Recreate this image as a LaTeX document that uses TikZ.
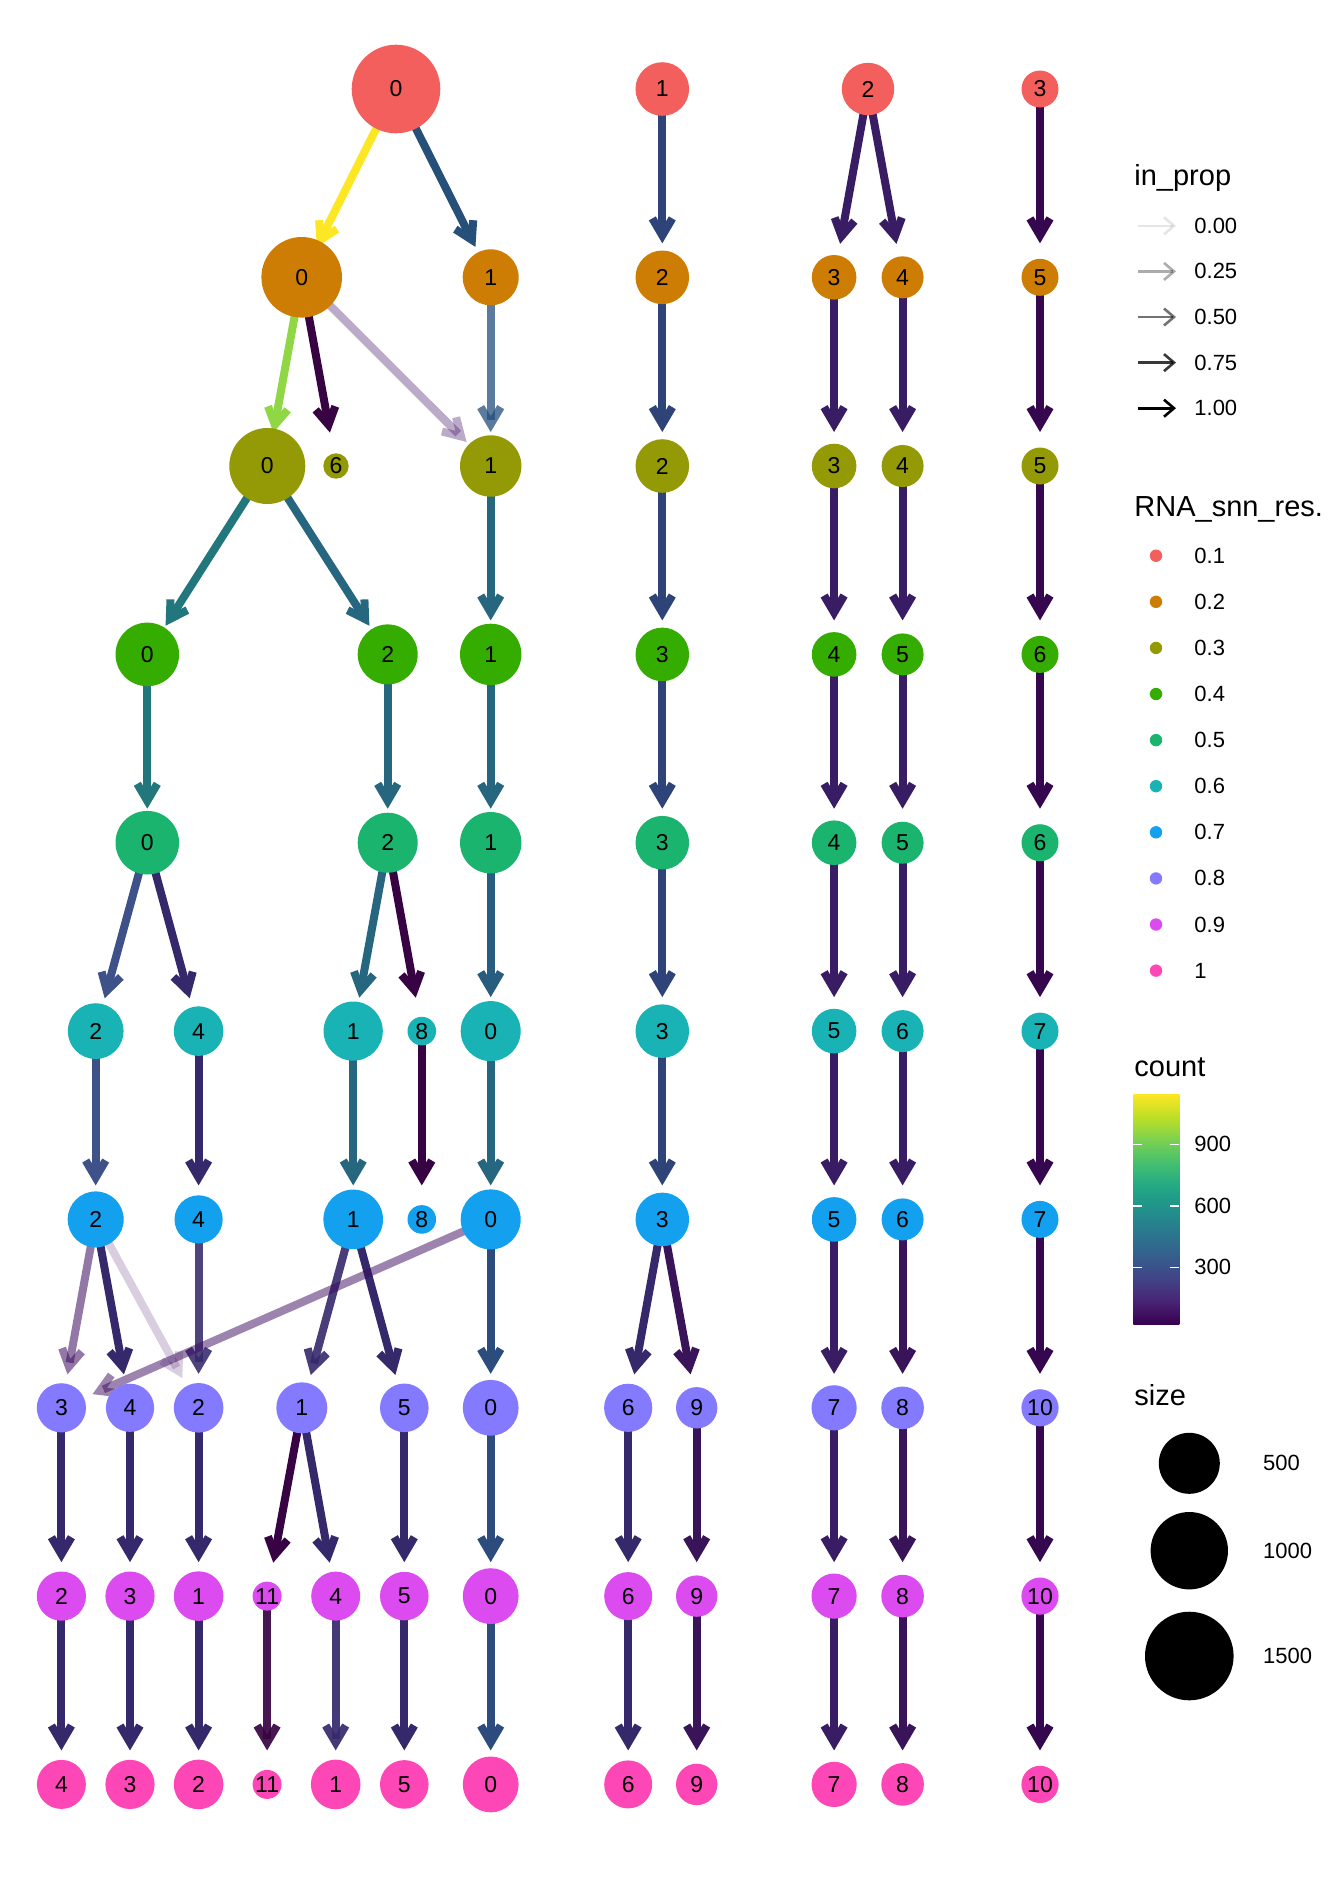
\documentclass[tikz,border=0pt]{standalone}
\usepackage{fontspec}
\setmainfont{Liberation Sans}
\usetikzlibrary{arrows.meta}
\usetikzlibrary{backgrounds}
% resolution colours
\definecolor{res1}{HTML}{F25F5C}
\definecolor{res2}{HTML}{CD7D04}
\definecolor{res3}{HTML}{939A05}
\definecolor{res4}{HTML}{34AD00}
\definecolor{res5}{HTML}{1AB46F}
\definecolor{res6}{HTML}{19B3B5}
\definecolor{res7}{HTML}{13A0EF}
\definecolor{res8}{HTML}{847AFF}
\definecolor{res9}{HTML}{DC4BF0}
\definecolor{res10}{HTML}{FE47B6}
% edge colours (count)
\definecolor{cYellow}{HTML}{FDE725}
\definecolor{cLime}{HTML}{8FD744}
\definecolor{cTeal}{HTML}{22777D}
\definecolor{cTealB}{HTML}{26667E}
\definecolor{cOcean}{HTML}{285D7F}
\definecolor{cSteel}{HTML}{264F79}
\definecolor{cBlue}{HTML}{2B4C7C}
\definecolor{cNavy}{HTML}{2E4479}
\definecolor{cSlate}{HTML}{3E5289}
\definecolor{cIndigo}{HTML}{35296B}
\definecolor{cPurple}{HTML}{391D64}
\definecolor{cPurpleB}{HTML}{391458}
\definecolor{cDark}{HTML}{35074F}
\definecolor{cDarker}{HTML}{370342}
\definecolor{cFaint}{HTML}{3A0A5E}
\definecolor{cFaintB}{HTML}{234E7D}
% viridis bar
\definecolor{vir0}{HTML}{3A0050}
\definecolor{vir1}{HTML}{482475}
\definecolor{vir2}{HTML}{414487}
\definecolor{vir3}{HTML}{355F8D}
\definecolor{vir4}{HTML}{2A788E}
\definecolor{vir5}{HTML}{21918C}
\definecolor{vir6}{HTML}{22A884}
\definecolor{vir7}{HTML}{44BF70}
\definecolor{vir8}{HTML}{7AD151}
\definecolor{vir9}{HTML}{BDDF26}
\definecolor{vir10}{HTML}{FDE725}
\pgfdeclareverticalshading{viridis}{100bp}{color(0bp)=(vir0); color(25bp)=(vir0); color(30bp)=(vir1); color(35bp)=(vir2); color(40bp)=(vir3); color(45bp)=(vir4); color(50bp)=(vir5); color(55bp)=(vir6); color(60bp)=(vir7); color(65bp)=(vir8); color(70bp)=(vir9); color(75bp)=(vir10); color(100bp)=(vir10)}
\tikzset{clu/.style = {circle, inner sep = 0, text = black, font = \fontsize{11.5}{13}\selectfont}}
\tikzset{flow/.style = {line width = 4pt, draw = #1, -{Straight Barb[length = 8.5pt, width = 10pt]}, shorten > = 17pt}}
\tikzset{ttl/.style = {anchor = base west, inner sep = 0, font = \fontsize{14.5}{16}\selectfont}}
\tikzset{lab/.style = {anchor = west, inner sep = 0, font = \fontsize{11}{13}\selectfont}}

\begin{document}
\begin{tikzpicture}[x = 0.5pt, y = -0.5pt]
    \useasboundingbox (0, 0) rectangle (1344, 1881);
    % clusters, one row per resolution
    \foreach \x/\r/\n in {396/44.3/0, 662.3/26.8/1, 868/26.2/2, 1040/18.5/3}
      \node [clu, fill = res1, minimum size = \r pt] (a\n) at (\x, 89) {\n};
    \foreach \x/\r/\n in {301.7/40.3/0, 490.7/28/1, 662.3/26.8/2, 834.1/22.3/3, 902.6/21/4, 1040/18.5/5}
      \node [clu, fill = res2, minimum size = \r pt] (b\n) at (\x, 277.3) {\n};
    \foreach \x/\r/\n in {267.3/38/0, 336/12.7/6, 490.7/30.7/1, 662.3/26.8/2, 834.1/22.3/3, 902.6/21/4, 1040/18.5/5}
      \node [clu, fill = res3, minimum size = \r pt] (c\n) at (\x, 466) {\n};
    \foreach \x/\r/\n in {147.3/31.8/0, 387.7/30/2, 490.7/30.7/1, 662.3/26.8/3, 834.1/22.3/4, 902.6/21/5, 1040/18.5/6}
      \node [clu, fill = res4, minimum size = \r pt] (d\n) at (\x, 654.4) {\n};
    \foreach \x/\r/\n in {147.3/31.8/0, 387.7/30/2, 490.7/30.7/1, 662.3/26.8/3, 834.1/22.3/4, 902.6/21/5, 1040/18.5/6}
      \node [clu, fill = res5, minimum size = \r pt] (e\n) at (\x, 842.7) {\n};
    \foreach \x/\r/\n in {95.7/27.9/2, 198.6/24.8/4, 353.2/29.6/1, 421.8/14.3/8, 490.7/30/0, 662.3/26.8/3, 834.1/22.3/5, 902.6/21/6, 1040/18.5/7}
      \node [clu, fill = res6, minimum size = \r pt] (f\n) at (\x, 1031.1) {\n};
    \foreach \x/\r/\n in {95.7/28/2, 198.6/24.1/4, 353.2/29.8/1, 421.8/14.3/8, 490.7/30/0, 662.3/26.8/3, 834.1/22.3/5, 902.6/21/6, 1040/18.5/7}
      \node [clu, fill = res7, minimum size = \r pt] (g\n) at (\x, 1219.4) {\n};
    \foreach \x/\r/\n in {61.4/24.6/3, 130/24.1/4, 198.6/24.8/2, 301.8/25.5/1, 404.3/24.3/5, 490.7/27.9/0, 628.2/24.1/6, 696.7/20.7/9, 834.1/22.6/7, 902.6/21.3/8, 1040/18.6/10}
      \node [clu, fill = res8, minimum size = \r pt] (h\n) at (\x, 1407.8) {\n};
    \foreach \x/\r/\n in {61.4/24.6/2, 130/24.6/3, 198.6/24.8/1, 267.1/14.5/11, 335.7/24.5/4, 404.3/24.3/5, 490.7/27.9/0, 628.2/24/6, 696.7/20.7/9, 834.1/22.6/7, 902.6/21.3/8, 1040/18.6/10}
      \node [clu, fill = res9, minimum size = \r pt] (i\n) at (\x, 1596.1) {\n};
    \foreach \x/\r/\n in {61.4/24.5/4, 130/24.6/3, 198.6/24.8/2, 267.1/14.5/11, 335.7/24.8/1, 404.3/24.3/5, 490.7/27.9/0, 628.2/24/6, 696.7/20.7/9, 834.1/22.6/7, 902.6/21.3/8, 1040/18.6/10}
      \node [clu, fill = res10, minimum size = \r pt] (j\n) at (\x, 1784.4) {\n};

    % edges behind the clusters
    \begin{scope}[on background layer]
      \draw [flow = cYellow] (a0.center) -- (b0.center);
      \draw [flow = cSteel] (a0.center) -- (b1.center);
      \draw [flow = cLime] (b0.center) -- (c0.center);
      \draw [flow = cOcean] (e1.center) -- (f0.center);
      \foreach \s/\t in {a1/b2, b2/c2, c2/d3, d3/e3, e3/f3, f3/g3}
        \draw [flow = cNavy] (\s.center) -- (\t.center);
      \foreach \s/\t in {a2/b3, a2/b4, b3/c3, b4/c4, c3/d4, c4/d5, d4/e4, d5/e5, e4/f5, e5/f6, f5/g5, f6/g6, g5/h7, h7/i7, i7/j7}
        \draw [flow = cPurple] (\s.center) -- (\t.center);
      \foreach \s/\t in {a3/b5, b5/c5, c5/d6, d6/e6, e6/f7, f7/g7, g7/h10, h10/i10, i10/j10}
        \draw [flow = cDark] (\s.center) -- (\t.center);
      \foreach \s/\t in {b0/c6, e2/f8, f8/g8, h1/i11}
        \draw [flow = cDarker] (\s.center) -- (\t.center);
      \foreach \s/\t in {c0/d0, d0/e0}
        \draw [flow = cTeal] (\s.center) -- (\t.center);
      \foreach \s/\t in {c0/d2, c1/d1, d2/e2, d1/e1, e2/f1, f1/g1, f0/g0}
        \draw [flow = cTealB] (\s.center) -- (\t.center);
      \foreach \s/\t in {e0/f2, f2/g2}
        \draw [flow = cSlate] (\s.center) -- (\t.center);
      \foreach \s/\t in {e0/f4, f4/g4, g2/h4, g1/h5, g3/h6, h3/i2, h4/i3, h2/i1, h1/i4, h5/i5, h6/i6, i2/j4, i3/j3, i1/j2, i5/j5, i6/j6}
        \draw [flow = cIndigo] (\s.center) -- (\t.center);
      \foreach \s/\t in {g0/h0, h0/i0, i0/j0}
        \draw [flow = cBlue] (\s.center) -- (\t.center);
      \foreach \s/\t in {g3/h9, g6/h8, h9/i9, h8/i8, i9/j9, i8/j8}
        \draw [flow = cPurpleB] (\s.center) -- (\t.center);
      \draw [flow = cIndigo, opacity = 0.88] (g4.center) -- (h2.center);
      \draw [flow = cIndigo, opacity = 0.9] (g1.center) -- (h1.center);
      \draw [flow = cIndigo, opacity = 0.92] (i4.center) -- (j1.center);
      \draw [flow = cDarker, opacity = 0.92] (i11.center) -- (j11.center);
      % split clusters
      \draw [flow = cFaintB, opacity = 0.75] (b1.center) -- (c1.center);
      \draw [flow = cFaint, opacity = 0.34] (b0.center) -- (c1.center);
      \draw [flow = cFaint, opacity = 0.55] (g2.center) -- (h3.center);
      \draw [flow = cFaint, opacity = 0.2] (g2.center) -- (h2.center);
      \draw [flow = cFaint, opacity = 0.5] (g0.center) -- (h3.center);
    \end{scope}

    % legend: in_prop
    \node [ttl] (tprop) at (1134, 185) {in\_prop};
    \foreach \k/\v/\o in {0/0.00/0.1, 1/0.25/0.325, 2/0.50/0.55, 3/0.75/0.775, 4/1.00/1} {
      \coordinate (ps\k) at (1138, {225.8 + 45.6*\k});
      \coordinate (pe\k) at (1176, {225.8 + 45.6*\k});
      \draw [black, opacity = \o, line width = 1.3pt, -{Straight Barb[length = 5pt, width = 8.5pt]}] (ps\k) -- (pe\k);
      \node [lab] (pl\k) at (1194, {225.8 + 45.6*\k}) {\v};
    }
    % legend: resolution
    \node [ttl] (tres) at (1134, 516.8) {RNA\_snn\_res.};
    \foreach \k/\v in {1/0.1, 2/0.2, 3/0.3, 4/0.4, 5/0.5, 6/0.6, 7/0.7, 8/0.8, 9/0.9, 10/1} {
      \node [circle, inner sep = 0, minimum size = 6.2pt, fill = res\k] (rd\k) at (1156, {555.7 + 46.1*(\k - 1)}) {};
      \node [lab] (rl\k) at (1194, {555.7 + 46.1*(\k - 1)}) {\v};
    }
    % legend: count
    \node [ttl] (tcount) at (1134, 1076.7) {count};
    \shade [shading = viridis] (1133.3, 1094.3) rectangle (1179.3, 1324);
    \foreach \y/\v in {1144.3/900, 1206/600, 1267.3/300} {
      \draw [white, line width = 0.7pt] (1133.3, \y) -- ++(9, 0);
      \draw [white, line width = 0.7pt] (1179.3, \y) -- ++(-9, 0);
      \node [lab] (cl\v) at (1194, \y) {\v};
    }
    % legend: size
    \node [ttl] (tsize) at (1134, 1405) {size};
    \foreach \y/\r/\v in {1463.3/30.5/500, 1550.7/38.7/1000, 1656/44.3/1500} {
      \node [circle, inner sep = 0, minimum size = \r pt, fill = black] (sd\v) at (1189.3, \y) {};
      \node [lab] (sl\v) at (1262.7, \y) {\v};
    }
\end{tikzpicture}
\end{document}
